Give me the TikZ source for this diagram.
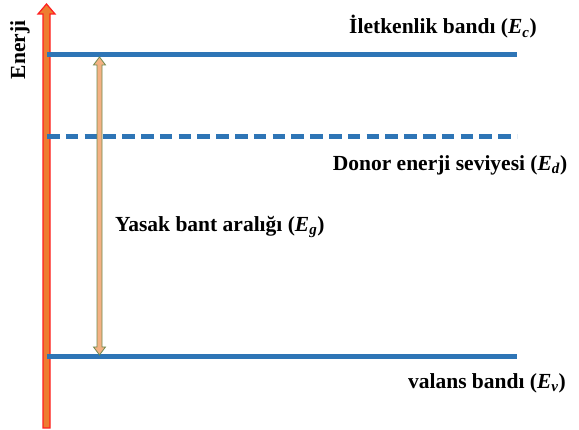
\documentclass[tikz,border=0pt]{standalone}
\usepackage{fontspec}
\setmainfont{Liberation Serif}
% italic energy symbol with subscript
\newcommand\enersym[1]{{\itshape E\textsubscript{#1}}}
\begin{document}
\begin{tikzpicture}[x=1pt,y=1pt,
  band/.style={draw=bandblue,line width=5pt},
  lbl/.style={font=\bfseries\fontsize{21.5}{24}\selectfont,inner sep=0pt}]
\definecolor{bandblue}{HTML}{2E75B6}
\definecolor{axisfill}{HTML}{ED7D31}
\definecolor{axisline}{HTML}{FF2020}
\definecolor{gapfill}{HTML}{F4B183}
\definecolor{gapline}{HTML}{6F8A4F}
\useasboundingbox (0,0) rectangle (579,430);
% energy axis (block arrow pointing up)
\filldraw[fill=axisfill,draw=axisline,line width=1.2pt]
  (43,2) -- (43,416) -- (38,416) -- (46.5,426) -- (55,416) -- (50,416) -- (50,2) -- cycle;
\node[lbl,rotate=90] (enerji) at (20,380) {Enerji};
% band edges
\coordinate (c1) at (47,375); \coordinate (c2) at (517,375);
\coordinate (d1) at (47,293); \coordinate (d2) at (517,293);
\coordinate (v1) at (47,73);  \coordinate (v2) at (517,73);
\draw[band] (c1) -- (c2);
\draw[band,dash pattern=on 12.5pt off 6.3pt] (d1) -- (d2);
\draw[band] (v1) -- (v2);
% band gap double arrow
\filldraw[fill=gapfill,draw=gapline,line width=0.8pt]
  (99.5,373) -- (105.5,365) -- (102,365) -- (102,83) -- (105.5,83) -- (99.5,75)
  -- (93.5,83) -- (97,83) -- (97,365) -- (93.5,365) -- cycle;
% labels
\node[lbl] (ec) at (443,403) {İletkenlik bandı (\enersym{c})};
\node[lbl] (ed) at (450,265) {Donor enerji seviyesi (\enersym{d})};
\node[lbl,anchor=west] (eg) at (115,203) {Yasak bant aralığı (\enersym{g})};
\node[lbl,anchor=east] (ev) at (566,47) {valans bandı (\enersym{v})};
\end{tikzpicture}
\end{document}
